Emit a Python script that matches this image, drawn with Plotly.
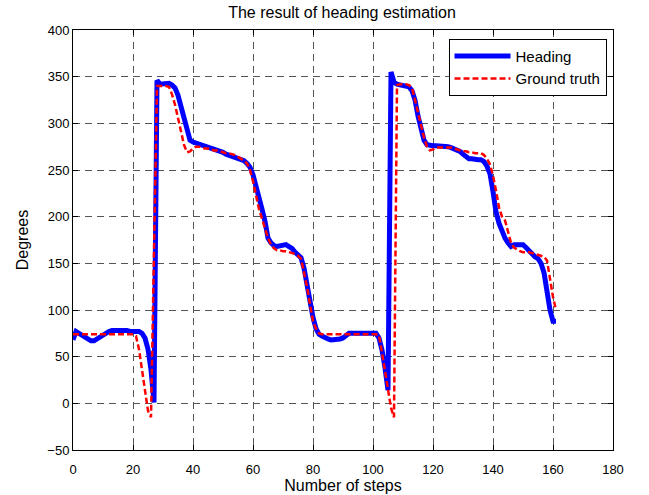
import plotly.graph_objects as go

steps = list(range(0, 162))

heading = [
    68, 77, 75, 73, 71, 69, 67, 67, 69, 71,      # 0-9
    74, 76, 77, 78, 78, 78, 79, 78, 78, 77,      # 10-19
    77, 77, 77, 75, 70, 58, 36, 1, 346, 342,     # 20-29
    342, 343, 343, 341, 338, 330, 318, 303, 290, 282,  # 30-39
    280, 279, 278, 277, 276, 275, 274, 273, 272, 271,  # 40-49
    269, 267, 266, 265, 264, 263, 262, 260, 257, 253,  # 50-59
    245, 234, 220, 208, 195, 177, 172, 169, 168, 169,  # 60-69
    170, 170, 168, 166, 162, 158, 156, 145, 127, 108,  # 70-79
    92, 80, 74, 72, 70, 69, 68, 68, 68, 69,      # 80-89
    70, 73, 75, 75, 75, 74, 74, 74, 74, 74,      # 90-99
    75, 75, 70, 57, 38, 14, 355, 344, 342, 341,  # 100-109
    340, 339, 339, 335, 325, 308, 294, 282, 277, 276,  # 110-119
    276, 276, 276, 275, 275, 275, 274, 273, 271, 270,  # 120-129
    267, 264, 262, 262, 261, 261, 261, 259, 254, 246,  # 130-139
    227, 205, 193, 183, 177, 172, 168, 170, 170, 170,  # 140-149
    170, 167, 163, 160, 157, 155, 150, 140, 118, 100,  # 150-159
    88, 88,                                      # 160-161
]

ground_truth = [
    74, 74, 74, 74, 74, 74, 74, 74, 74, 74,      # 0-9
    74, 74, 74, 74, 74, 74, 74, 74, 74, 74,      # 10-19
    74, 72, 58, 36, 12, -8, -15, 162, 340, 340,  # 20-29
    340, 340, 339, 331, 320, 305, 292, 277, 269, 270,  # 30-39
    273, 275, 275, 274, 273, 273, 272, 271, 271, 270,  # 40-49
    269, 268, 268, 267, 266, 264, 262, 260, 257, 250,  # 50-59
    238, 224, 208, 198, 187, 177, 170, 166, 164, 164,  # 60-69
    163, 163, 162, 161, 160, 158, 155, 140, 125, 106,  # 70-79
    88, 80, 75, 74, 74, 74, 74, 74, 74, 74,      # 80-89
    74, 74, 74, 74, 74, 74, 74, 74, 74, 74,      # 90-99
    74, 74, 73, 56, 35, 15, -5, -15, 341, 342,   # 100-109
    342, 342, 341, 338, 325, 310, 298, 285, 275, 271,  # 110-119
    272, 274, 274, 274, 274, 274, 274, 273, 272, 271,  # 120-129
    270, 270, 269, 269, 268, 268, 268, 266, 262, 256,  # 130-139
    244, 228, 210, 200, 196, 184, 172, 167, 165, 163,  # 140-149
    162, 162, 162, 161, 160, 159, 158, 157, 153, 133,  # 150-159
    114, 100,                                    # 160-161
]

x_ticks = [0, 20, 40, 60, 80, 100, 120, 140, 160, 180]
y_ticks = [-50, 0, 50, 100, 150, 200, 250, 300, 350, 400]

FONT = "Liberation Sans, Arial, Helvetica, sans-serif"

fig = go.Figure()
fig.add_trace(go.Scatter(
    x=steps, y=heading, mode="lines", name="Heading",
    line=dict(color="#0000FF", width=5),
))
fig.add_trace(go.Scatter(
    x=steps, y=ground_truth, mode="lines", name="Ground truth",
    line=dict(color="#FF0000", width=2.5, dash="6px,3px"),
))

axis_common = dict(
    showline=True, linecolor="black", linewidth=1, mirror="ticks",
    ticks="inside", ticklen=5, tickcolor="black", tickwidth=1,
    showgrid=True, gridcolor="#555555", gridwidth=1, griddash="7px,5px",
    zeroline=False, automargin=False,
    tickfont=dict(family=FONT, size=13, color="black"),
)

fig.update_xaxes(
    range=[0, 180], tickvals=x_ticks, ticklabelstandoff=7,
    title=dict(text="Number of steps", font=dict(family=FONT, size=16, color="black"), standoff=3),
    **axis_common,
)
fig.update_yaxes(
    range=[-50, 400], tickvals=y_ticks,
    title=dict(text="Degrees", font=dict(family=FONT, size=16, color="black"), standoff=14),
    **axis_common,
)

fig.update_layout(
    width=649, height=495,
    margin=dict(l=73, r=36, t=30, b=45),
    paper_bgcolor="white", plot_bgcolor="white",
    title=dict(text="The result of heading estimation", x=0.527, xanchor="center",
               y=1 - 12 / 495, yanchor="middle",
               font=dict(family=FONT, size=16, color="black")),
    legend=dict(x=0.988, y=0.979, xanchor="right", yanchor="top",
                bgcolor="white", bordercolor="black", borderwidth=1,
                font=dict(family=FONT, size=15, color="black"),
                itemwidth=56, tracegroupgap=0),
    showlegend=True,
)

fig.write_html("out.html")
